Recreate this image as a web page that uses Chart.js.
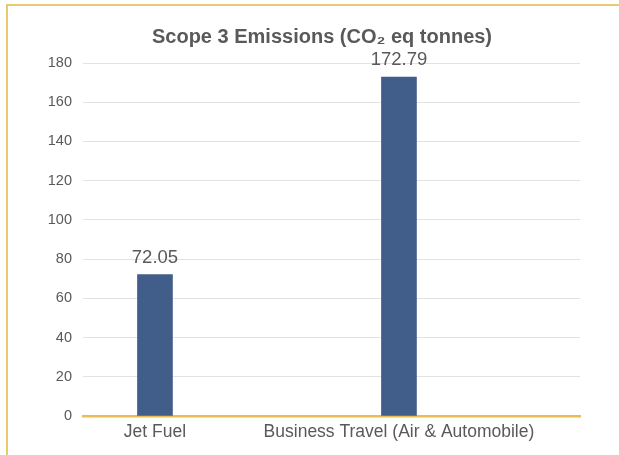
<!DOCTYPE html>
<html>
<head>
<meta charset="utf-8">
<title>Scope 3 Emissions</title>
<script src="https://cdn.jsdelivr.net/npm/chart.js@4.4.0/dist/chart.umd.min.js"></script>
<style>
    html, body { margin: 0; padding: 0; background: #ffffff; }
    .wrap { position: relative; width: 619px; height: 455px; overflow: hidden; }
    .wrap canvas { position: absolute; left: 0; top: 0; }
    .frame {
        position: absolute; left: 6px; top: 4px; right: 0; bottom: 0;
        border-top: 2px solid #ebc970; border-left: 2px solid #ebc970;
        pointer-events: none;
    }
</style>
</head>
<body>
<div class="wrap">
    <canvas id="emissionsChart"></canvas>
    <div class="frame"></div>
</div>
<script>
// Chart data
const categories = ['Jet Fuel', 'Business Travel (Air & Automobile)'];
const emissions = [72.05, 172.79];
const yTicks = [0, 20, 40, 60, 80, 100, 120, 140, 160, 180];

const textColor = '#595959';
const fontFamily = '"Liberation Sans", Arial, sans-serif';

// Draw value labels above each bar
const valueLabels = {
    id: 'valueLabels',
    afterDatasetsDraw(chart) {
        const ctx = chart.ctx;
        const meta = chart.getDatasetMeta(0);
        ctx.save();
        ctx.font = '18.5px ' + fontFamily;
        ctx.fillStyle = textColor;
        ctx.textAlign = 'center';
        ctx.textBaseline = 'bottom';
        meta.data.forEach((bar, i) => {
            ctx.fillText(emissions[i].toFixed(2), bar.x, bar.y - 8);
        });
        ctx.restore();
    }
};

// Title sits a bit right of the canvas centre, like the original
const titleShift = {
    id: 'titleShift',
    afterLayout(chart) {
        if (chart.titleBlock) chart.titleBlock.left += 64;
    }
};

const ctx = document.getElementById('emissionsChart').getContext('2d');
new Chart(ctx, {
    type: 'bar',
    data: {
        datasets: [{
            data: emissions.map((v, i) => ({ x: i, y: v })),
            backgroundColor: '#415d8a',
            borderWidth: 0,
            barThickness: 35
        }]
    },
    options: {
        responsive: true,
        maintainAspectRatio: false,
        animation: false,
        layout: { padding: { left: 0, right: 39, top: 25, bottom: 6 } },
        plugins: {
            legend: { display: false },
            tooltip: { enabled: false },
            title: {
                display: true,
                text: 'Scope 3 Emissions (CO\u2082 eq tonnes)',
                color: textColor,
                font: { family: fontFamily, size: 20, weight: 'bold' },
                padding: { top: 0, bottom: 14 }
            }
        },
        scales: {
            x: {
                type: 'linear',
                offset: false,
                min: -0.295,
                max: 1.742,
                grid: { display: false, drawTicks: false, offset: false },
                border: { display: true, color: '#e8bd52', width: 2.5 },
                afterBuildTicks: (scale) => {
                    scale.ticks = categories.map((c, i) => ({ value: i }));
                },
                ticks: {
                    autoSkip: false,
                    maxRotation: 0,
                    padding: 6,
                    color: textColor,
                    font: { family: fontFamily, size: 17.5 },
                    callback: (value) => categories[value]
                }
            },
            y: {
                min: 0,
                max: 180,
                afterFit: (scale) => { scale.width = 83; },
                afterBuildTicks: (scale) => {
                    scale.ticks = yTicks.map(v => ({ value: v }));
                },
                grid: { color: '#e2e2e2', lineWidth: 1, drawTicks: false },
                border: { display: false },
                ticks: {
                    padding: 11,
                    color: textColor,
                    font: { family: fontFamily, size: 14.5 },
                    callback: (value) => String(value)
                }
            }
        }
    },
    plugins: [valueLabels, titleShift]
});
</script>
</body>
</html>
